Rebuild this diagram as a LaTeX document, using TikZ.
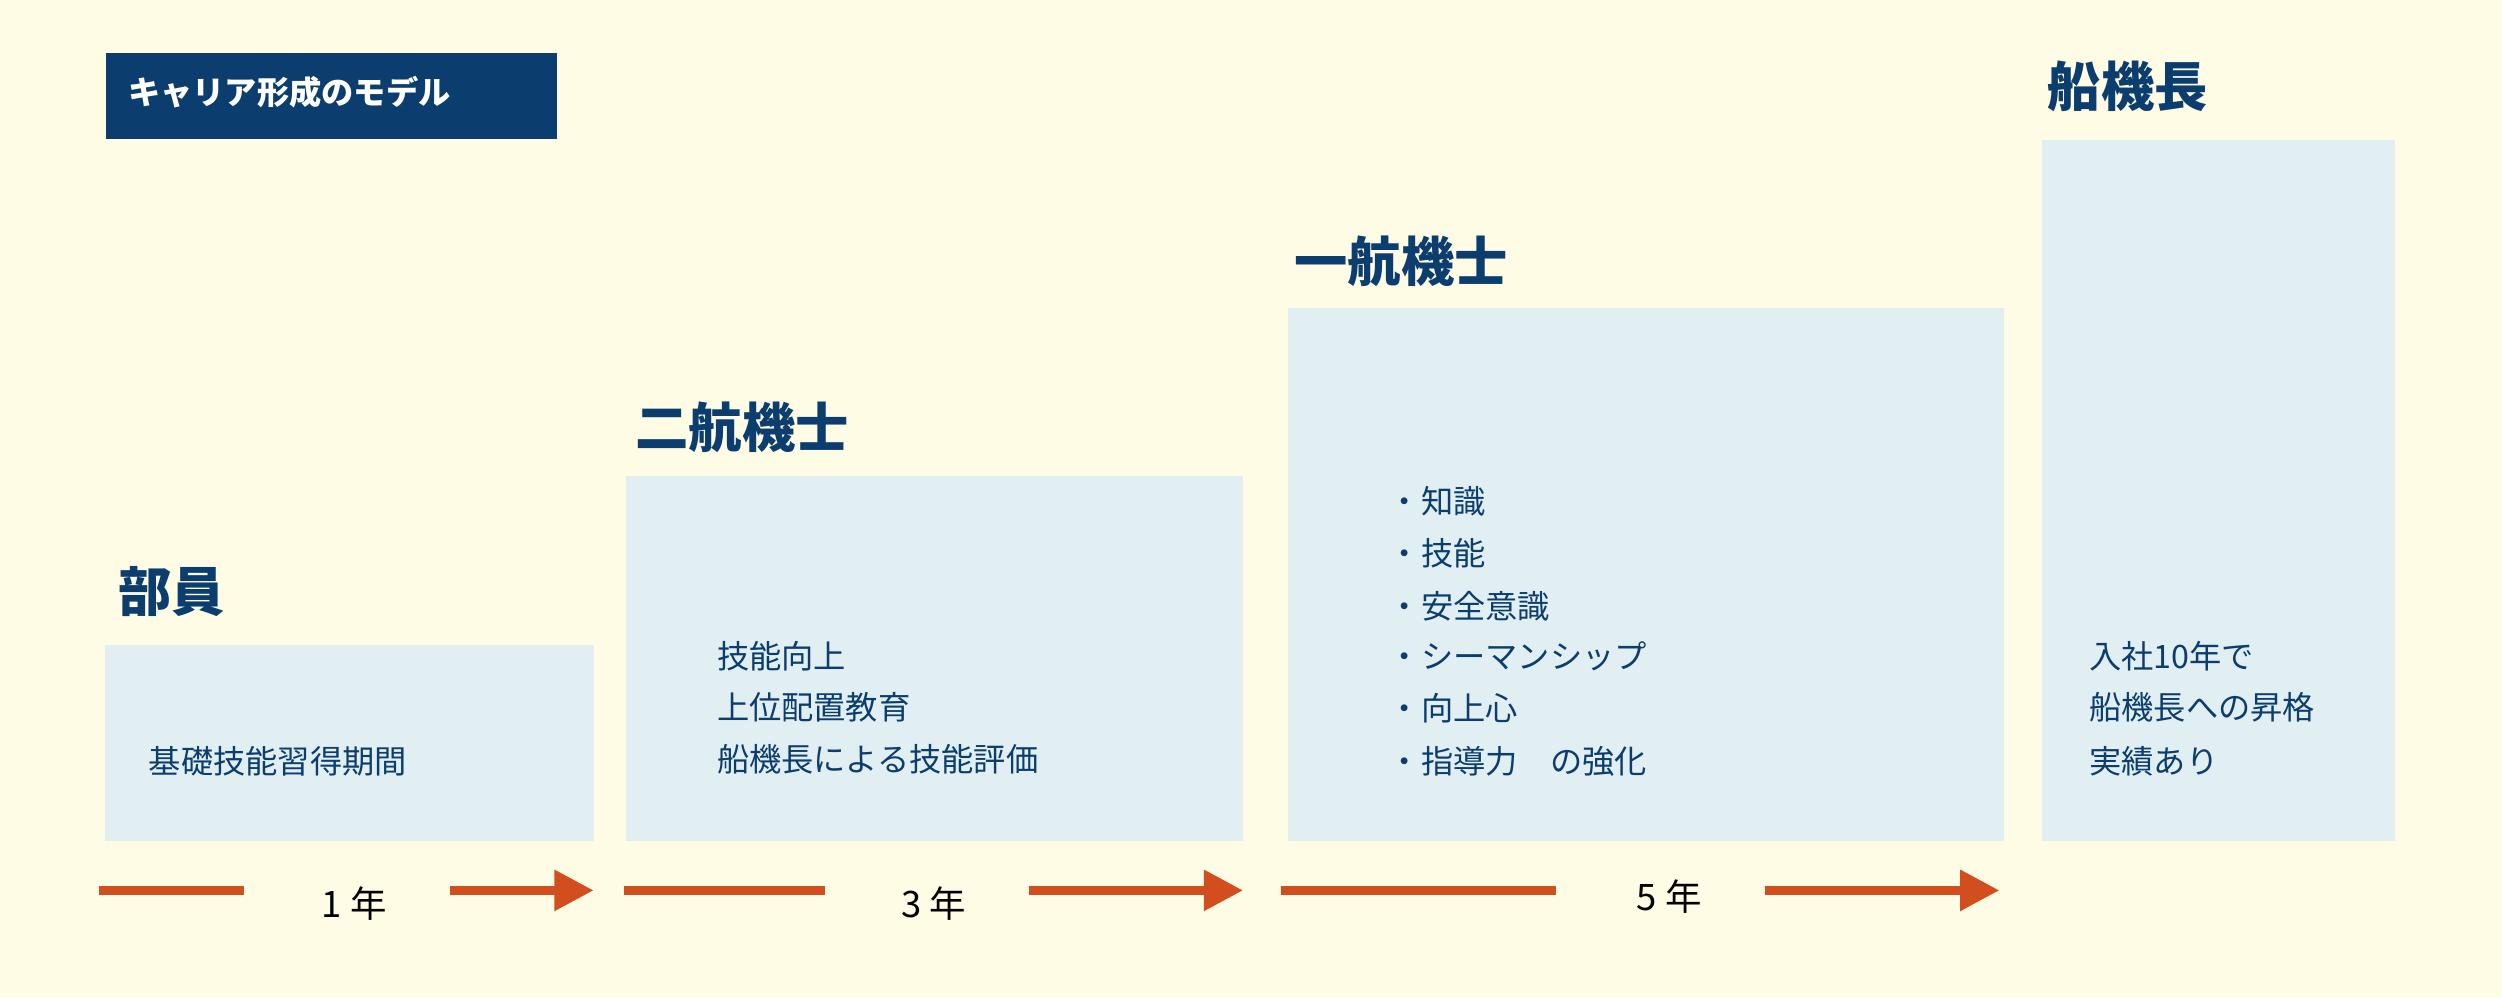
\documentclass[tikz,border=0pt]{standalone}
\usepackage{fontspec}
\setmainfont{Noto Sans CJK JP}
\usetikzlibrary{arrows.meta}
\definecolor{bg}{HTML}{FEFCE4}
\definecolor{navy}{HTML}{0B3D6E}
\definecolor{pale}{HTML}{E1EFF3}
\definecolor{orng}{HTML}{D24E1E}
\begin{document}
\begin{tikzpicture}[x=0.02cm,y=-0.02cm,
  panel/.style={fill=pale,draw=none},
  rank/.style={anchor=west,text=navy,font=\fontsize{19}{22}\selectfont\bfseries,inner sep=0},
  body/.style={anchor=west,text=navy,font=\fontsize{11.5}{14}\selectfont,inner sep=0},
  yr/.style={font=\fontsize{13}{15}\selectfont,text=black,inner sep=0},
  seg/.style={orng,line width=3pt},
  arr/.style={orng,line width=3pt,-{Triangle[length=14pt,width=14pt]}}]
\fill[bg] (0,0) rectangle (1568,625);
\useasboundingbox (0,0) rectangle (1568,625);
\node[fill=navy,minimum width=283*0.02cm,minimum height=54*0.02cm,anchor=north west,inner sep=0] (title) at (66,33) {};
\node[anchor=west,text=white,font=\fontsize{11.5}{14}\selectfont\bfseries,inner sep=0] (tt) at (80,58) {キャリア形成のモデル};
\fill[panel] (66,404) rectangle (372,527);
\fill[panel] (392,298) rectangle (779,527);
\fill[panel] (807,193) rectangle (1256,527);
\fill[panel] (1280,88) rectangle (1501,527);
\node[rank] (r1) at (74,371) {部員};
\node[rank] (r2) at (398,268) {二航機士};
\node[rank] (r3) at (811,164) {一航機士};
\node[rank] (r4) at (1283,54) {船機長};
\node[body] (t1) at (93,477) {基礎技能習得期間};
\node[body] (t2a) at (449,411) {技能向上};
\node[body] (t2b) at (449,443) {上位配置教育};
\node[body] (t2c) at (449,476) {船機長による技能評価};
\node[body] (b1) at (870,314) {・知識};
\node[body] (b2) at (870,347) {・技能};
\node[body] (b3) at (870,380) {・安全意識};
\node[body] (b4) at (870,411) {・シーマンシップ};
\node[body] (b5) at (870,444) {・向上心};
\node[body] (b6) at (870,477) {・指導力\quad の強化};
\node[body] (t4a) at (1309,411) {入社10年で};
\node[body] (t4b) at (1309,443) {船機長への昇格};
\node[body] (t4c) at (1309,477) {実績あり};
\node[yr] (y1) at (222,566) {1 年};
\node[yr] (y2) at (585,566) {3 年};
\node[yr] (y3) at (1046,562) {5 年};
\coordinate (a1) at (62,558); \coordinate (a2) at (153,558);
\coordinate (a3) at (282,558); \coordinate (a4) at (372,558);
\coordinate (b1s) at (391,558); \coordinate (b2s) at (517,558);
\coordinate (b3s) at (645,558); \coordinate (b4s) at (779,558);
\coordinate (c1) at (803,558); \coordinate (c2) at (975,558);
\coordinate (c3) at (1106,558); \coordinate (c4) at (1253,558);
\draw[seg] (a1) -- (a2); \draw[arr] (a3) -- (a4);
\draw[seg] (b1s) -- (b2s); \draw[arr] (b3s) -- (b4s);
\draw[seg] (c1) -- (c2); \draw[arr] (c3) -- (c4);
\end{tikzpicture}
\end{document}
